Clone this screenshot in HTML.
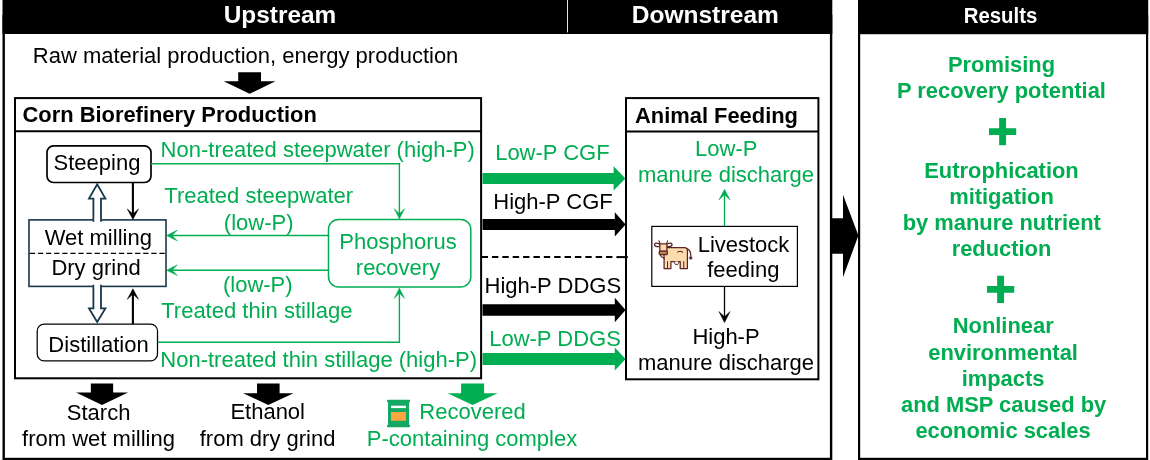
<!DOCTYPE html>
<html lang="en">
<head>
<meta charset="utf-8">
<title>Corn biorefinery phosphorus recovery: system overview</title>
<style>
html,body{margin:0;padding:0;background:#fff;}
body{width:1150px;height:460px;overflow:hidden;}
svg{display:block;will-change:transform;font-family:"Liberation Sans",Arial,Helvetica,sans-serif;}
</style>
</head>
<body>
<svg width="1150" height="460" viewBox="0 0 1150 460">
<rect width="1150" height="460" fill="#fff"/>
<rect x="2.5" y="0" width="829.8" height="34" fill="#000"/>
<rect x="3.7" y="16" width="827.4" height="443" fill="none" stroke="#000" stroke-width="2.4"/>
<rect x="567" y="0" width="0.9" height="32.4" fill="#fff"/>
<rect x="858" y="0" width="290.2" height="34.2" fill="#000"/>
<rect x="859.1" y="16" width="288" height="442.9" fill="none" stroke="#000" stroke-width="2.2"/>
<path d="M832 218.2H843V194.8L858.4 235.6L843 277.3V253.8H832Z" fill="#000"/>
<rect x="15" y="98.1" width="466.1" height="280.2" fill="#fff" stroke="#000" stroke-width="2"/>
<path d="M15 131.2H481.1" stroke="#000" stroke-width="2"/>
<rect x="626" y="98.1" width="192.4" height="281.2" fill="#fff" stroke="#000" stroke-width="2"/>
<path d="M626 131.4H818.4" stroke="#000" stroke-width="2"/>
<path d="M238.2 72.2H261.0V81.3H275.5L249.6 93.8L223.7 81.3H238.2Z" fill="#000"/>
<path d="M90.85 383.4H113.15V392.5H128.0L102 405L76.0 392.5H90.85Z" fill="#000"/>
<path d="M257.0 383.4H279.6V393.2H293.5L268.3 405L243.10000000000002 393.2H257.0Z" fill="#000"/>
<path d="M461.1 383.4H484.1V393.2H497.6L472.6 405L447.6 393.2H461.1Z" fill="#00ad50"/>
<path d="M482.5 172.9H613.6V166.20000000000002L625.4 178.4L613.6 190.6V183.9H482.5Z" fill="#00ad50"/>
<path d="M482.5 218.9H614.8V212.20000000000002L625.6 224.4L614.8 236.6V229.9H482.5Z" fill="#000"/>
<path d="M482.5 304.2H614.8V297.7L625.6 310L614.8 322.3V315.8H482.5Z" fill="#000"/>
<path d="M482.5 353.1H614.8V347.6L625.6 359L614.8 370.4V364.9H482.5Z" fill="#00ad50"/>
<path d="M481.6 257.1H616.4" stroke="#000" stroke-width="2" stroke-dasharray="6.4 3.97" fill="none"/>
<path d="M616.4 257.1H627.8" stroke="#000" stroke-width="2" fill="none"/>
<g transform="translate(0.7,0.6)">
<rect x="46.3" y="145.3" width="104" height="36.6" rx="6.5" fill="#fff" stroke="#000" stroke-width="1.7"/>
<rect x="36.5" y="323.5" width="120.3" height="36.8" rx="7" fill="#fff" stroke="#000" stroke-width="1.25"/>
<rect x="28.3" y="219.3" width="137" height="66.5" fill="#fff" stroke="#17374a" stroke-width="1.6"/>
<path d="M29.1 252.8H164.5" stroke="#000" stroke-width="1.15" stroke-dasharray="5.3 2.8" fill="none"/>
<path d="M92.7 220.2V198H88.3L96.5 183.8L104.7 198H100.3V220.2Z" fill="#fff" stroke="#17374a" stroke-width="1.8" stroke-linejoin="miter"/>
<path d="M92.7 285.1V307.8H88.3L96.5 321.3L104.7 307.8H100.3V285.1Z" fill="#fff" stroke="#17374a" stroke-width="1.8" stroke-linejoin="miter"/>
<rect x="93.6" y="218" width="5.8" height="4" fill="#fff"/>
<rect x="93.6" y="283" width="5.8" height="4" fill="#fff"/>
<path d="M132.2 182L132.20 215.62" fill="none" stroke="#000" stroke-width="2.1"/><path d="M132.2 218.8L126.60 208.30L132.20 213.50L137.80 208.30Z" fill="#000" stroke="#000" stroke-width="0.5" stroke-linejoin="round"/>
<path d="M132.2 323.4L132.20 291.38" fill="none" stroke="#000" stroke-width="2.1"/><path d="M132.2 288.2L137.80 298.70L132.20 293.50L126.60 298.70Z" fill="#000" stroke="#000" stroke-width="0.5" stroke-linejoin="round"/>
</g>
<rect x="328.5" y="219.4" width="142.3" height="67.6" rx="10" fill="#fff" stroke="#00ad50" stroke-width="1.5"/>
<path d="M151 163.8H400.1" stroke="#00ad50" stroke-width="1.4" fill="none"/>
<path d="M399.4 163.1L399.40 215.88" fill="none" stroke="#00ad50" stroke-width="1.4"/><path d="M399.4 219L394.20 208.60L399.40 213.80L404.60 208.60Z" fill="#00ad50" stroke="#00ad50" stroke-width="0.5" stroke-linejoin="round"/>
<path d="M157.7 342.3H400.1" stroke="#00ad50" stroke-width="1.4" fill="none"/>
<path d="M399.4 343L399.40 291.12" fill="none" stroke="#00ad50" stroke-width="1.4"/><path d="M399.4 288L404.60 298.40L399.40 293.20L394.20 298.40Z" fill="#00ad50" stroke="#00ad50" stroke-width="0.5" stroke-linejoin="round"/>
<path d="M328.5 235.5L169.84 235.50" fill="none" stroke="#00ad50" stroke-width="1.4"/><path d="M166.6 235.5L177.40 230.10L172.00 235.50L177.40 240.90Z" fill="#00ad50" stroke="#00ad50" stroke-width="0.5" stroke-linejoin="round"/>
<path d="M328.5 270.2L169.84 270.20" fill="none" stroke="#00ad50" stroke-width="1.4"/><path d="M166.6 270.2L177.40 264.80L172.00 270.20L177.40 275.60Z" fill="#00ad50" stroke="#00ad50" stroke-width="0.5" stroke-linejoin="round"/>
<rect x="651.8" y="226.4" width="145.6" height="60" fill="#fff" stroke="#000" stroke-width="1.2"/>
<path d="M724.5 226L724.50 192.56" fill="none" stroke="#00ad50" stroke-width="1.3"/><path d="M724.5 189.2L730.10 200.00L724.50 194.80L718.90 200.00Z" fill="#00ad50" stroke="#00ad50" stroke-width="0.5" stroke-linejoin="round"/>
<path d="M724.5 286.6L724.50 319.12" fill="none" stroke="#000" stroke-width="1.3"/><path d="M724.5 322.6L718.90 311.60L724.50 316.80L730.10 311.60Z" fill="#000" stroke="#000" stroke-width="0.5" stroke-linejoin="round"/>
<path d="M999.15 118.0h6.9v10.149999999999999h10.149999999999999v6.9h-10.149999999999999v10.149999999999999h-6.9v-10.149999999999999h-10.149999999999999v-6.9h10.149999999999999Z" fill="#00ad50"/>
<path d="M997.15 275.75h6.9v10.2h10.2v6.9h-10.2v10.2h-6.9v-10.2h-10.2v-6.9h10.2Z" fill="#00ad50"/>
<g><rect x="387" y="399.8" width="23.1" height="2.5" rx="0.8" fill="#14a862"/><rect x="387" y="424.8" width="23.1" height="2.5" rx="0.8" fill="#14a862"/><rect x="388" y="401" width="21.1" height="25" fill="#14a862"/><rect x="391" y="405.7" width="14.9" height="2.4" fill="#fff"/><rect x="391" y="412" width="14.9" height="8.8" fill="#ffa640"/></g>
<g transform="translate(654,240)" stroke="#5e2424" stroke-width="1.25" stroke-linejoin="round" stroke-linecap="round">
<path d="M30.5 8.3C34.6 8 36.4 10.6 36.7 14.5L36.9 17.3" fill="none"/>
<path d="M35.6 17.2h2.5l-.3 1.9h-1.9z" fill="#5e2424" stroke-width=".6"/>
<path d="M9.6 7.7H30.6Q33.4 7.7 33.4 11V28.5H26.2V21.6H16.9V28.5H10.1V18Z" fill="#fbdcae"/>
<path d="M13.5 21.6V28.2M29.8 21.6V28.2" fill="none" stroke-width="1"/>
<path d="M20.4 21.6q.3 3.2 1.7 3.4q.6 -1.7 1.5 -.2q1.1 -1 1.1 -3.2" fill="#fff" stroke-width=".9"/>
<path d="M23.6 12.1q2.8 -1.7 5 .1" fill="none" stroke-width="1.1"/>
<path d="M4.9 .8L6.2 4M13.5 .8L12.5 4" fill="none" stroke-width="1.1"/>
<path d="M6 4.2Q.9 2 .5 4.6Q.9 7.2 6.3 6.5Z" fill="#fff"/>
<path d="M12.6 4.2Q17.7 2 18.1 4.6Q17.7 7.2 12.3 6.5Z" fill="#fff"/>
<path d="M5.8 3.8H12.9V11.4H5.8Z" fill="#fbdcae"/>
<rect x="5.2" y="11.1" width="8.2" height="3.5" rx="1" fill="#b8834c"/>
<path d="M6.3 14.8Q6.9 17.2 10 18.2" fill="none"/>
</g>
<g id="labels">
<text x="280" y="23.2" text-anchor="middle" font-weight="bold" fill="#fff" font-size="24.4">Upstream</text>
<text x="705.3" y="23.2" text-anchor="middle" font-weight="bold" fill="#fff" font-size="24.5">Downstream</text>
<text transform="translate(1000.5,22.6) scale(1,1.08)" text-anchor="middle" font-weight="bold" fill="#fff" font-size="20.4">Results</text>
<text x="32.8" y="62.6" text-anchor="start" font-weight="normal" fill="#000" font-size="22">Raw material production, energy production</text>
<text x="22.5" y="121.7" text-anchor="start" font-weight="bold" fill="#000" font-size="21.9">Corn Biorefinery Production</text>
<text x="635" y="122.6" text-anchor="start" font-weight="bold" fill="#000" font-size="21.9">Animal Feeding</text>
<text x="97" y="169.5" text-anchor="middle" font-weight="normal" fill="#000" font-size="22.0">Steeping</text>
<text x="98.3" y="244.5" text-anchor="middle" font-weight="normal" fill="#000" font-size="22.0">Wet milling</text>
<text x="96" y="275.4" text-anchor="middle" font-weight="normal" fill="#000" font-size="22.0">Dry grind</text>
<text x="98.5" y="351.6" text-anchor="middle" font-weight="normal" fill="#000" font-size="22.0">Distillation</text>
<text x="160.6" y="157.1" text-anchor="start" font-weight="normal" fill="#00ad50" font-size="22.0">Non-treated steepwater (high-P)</text>
<text x="258.7" y="202.7" text-anchor="middle" font-weight="normal" fill="#00ad50" font-size="22.0">Treated steepwater</text>
<text x="258.7" y="229.7" text-anchor="middle" font-weight="normal" fill="#00ad50" font-size="22.0">(low-P)</text>
<text x="398" y="248.5" text-anchor="middle" font-weight="normal" fill="#00ad50" font-size="22.0">Phosphorus</text>
<text x="398" y="274.6" text-anchor="middle" font-weight="normal" fill="#00ad50" font-size="22.0">recovery</text>
<text x="257.8" y="291.7" text-anchor="middle" font-weight="normal" fill="#00ad50" font-size="22.0">(low-P)</text>
<text x="256.8" y="318" text-anchor="middle" font-weight="normal" fill="#00ad50" font-size="22.0">Treated thin stillage</text>
<text x="160.3" y="366.9" text-anchor="start" font-weight="normal" fill="#00ad50" font-size="22.0">Non-treated thin stillage (high-P)</text>
<text x="552.4" y="160.2" text-anchor="middle" font-weight="normal" fill="#00ad50" font-size="22.0">Low-P CGF</text>
<text x="553" y="209.3" text-anchor="middle" font-weight="normal" fill="#000" font-size="22.0">High-P CGF</text>
<text x="552.8" y="292.6" text-anchor="middle" font-weight="normal" fill="#000" font-size="22.0">High-P DDGS</text>
<text x="555" y="345.7" text-anchor="middle" font-weight="normal" fill="#00ad50" font-size="22.0">Low-P DDGS</text>
<text x="726.3" y="156.3" text-anchor="middle" font-weight="normal" fill="#00ad50" font-size="22.0">Low-P</text>
<text x="726" y="181.9" text-anchor="middle" font-weight="normal" fill="#00ad50" font-size="22.0">manure discharge</text>
<text x="743.5" y="251.5" text-anchor="middle" font-weight="normal" fill="#000" font-size="22.0">Livestock</text>
<text x="743.3" y="276.7" text-anchor="middle" font-weight="normal" fill="#000" font-size="22.0">feeding</text>
<text x="726" y="343.6" text-anchor="middle" font-weight="normal" fill="#000" font-size="22.0">High-P</text>
<text x="726" y="370.1" text-anchor="middle" font-weight="normal" fill="#000" font-size="22.0">manure discharge</text>
<text x="98.6" y="420" text-anchor="middle" font-weight="normal" fill="#000" font-size="22.0">Starch</text>
<text x="98.5" y="446" text-anchor="middle" font-weight="normal" fill="#000" font-size="22.0">from wet milling</text>
<text x="267.7" y="419.4" text-anchor="middle" font-weight="normal" fill="#000" font-size="22.0">Ethanol</text>
<text x="267.6" y="446" text-anchor="middle" font-weight="normal" fill="#000" font-size="22.0">from dry grind</text>
<text x="472.5" y="419.3" text-anchor="middle" font-weight="normal" fill="#00ad50" font-size="22.0">Recovered</text>
<text x="472" y="445.5" text-anchor="middle" font-weight="normal" fill="#00ad50" font-size="22.0">P-containing complex</text>
<text x="1001.5" y="71.6" text-anchor="middle" font-weight="bold" fill="#00ad50" font-size="21.9">Promising</text>
<text x="1001.5" y="97.9" text-anchor="middle" font-weight="bold" fill="#00ad50" font-size="21.9">P recovery potential</text>
<text x="1001.5" y="177.9" text-anchor="middle" font-weight="bold" fill="#00ad50" font-size="21.9">Eutrophication</text>
<text x="1001.5" y="204.2" text-anchor="middle" font-weight="bold" fill="#00ad50" font-size="21.9">mitigation</text>
<text x="1001.8" y="230.2" text-anchor="middle" font-weight="bold" fill="#00ad50" font-size="21.9">by manure nutrient</text>
<text x="1001.5" y="256.3" text-anchor="middle" font-weight="bold" fill="#00ad50" font-size="21.9">reduction</text>
<text x="1003.2" y="333" text-anchor="middle" font-weight="bold" fill="#00ad50" font-size="21.9">Nonlinear</text>
<text x="1003.1" y="359.6" text-anchor="middle" font-weight="bold" fill="#00ad50" font-size="21.9">environmental</text>
<text x="1003" y="385.9" text-anchor="middle" font-weight="bold" fill="#00ad50" font-size="21.9">impacts</text>
<text x="1003.6" y="412.3" text-anchor="middle" font-weight="bold" fill="#00ad50" font-size="21.9">and MSP caused by</text>
<text x="1003" y="437.9" text-anchor="middle" font-weight="bold" fill="#00ad50" font-size="21.9">economic scales</text>
</g>
</svg>
</body>
</html>
